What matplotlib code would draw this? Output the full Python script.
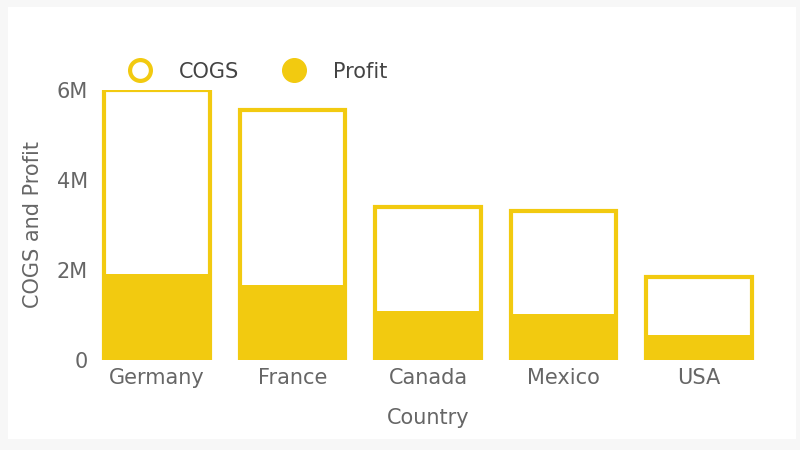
import matplotlib.pyplot as plt
from matplotlib.lines import Line2D

countries = ['Germany', 'France', 'Canada', 'Mexico', 'USA']
cogs = [6.0, 5.56, 3.39, 3.32, 1.85]   # millions
profit = [1.92, 1.67, 1.08, 1.03, 0.55]

gold = '#f2ca10'
txt = '#666666'

fig = plt.figure(figsize=(8, 4.5), dpi=100)
fig.patch.set_facecolor('#f7f7f7')
panel = fig.add_axes([0.01, 0.025, 0.985, 0.96])
panel.set_facecolor('white')
panel.set_xticks([]); panel.set_yticks([])
for s in panel.spines.values():
    s.set_visible(False)

ax = fig.add_axes([0.12, 0.2, 0.83, 0.6])
ax.set_facecolor('white')
x = range(len(countries))
ax.bar(x, profit, width=0.8, color=gold, zorder=2)
ax.bar(x, cogs, width=0.78, facecolor='none', edgecolor=gold, linewidth=3, zorder=3)

ax.set_xlim(-0.45, 4.45)
ax.set_ylim(0, 6.0)
ax.set_yticks([0, 2, 4, 6])
ax.set_yticklabels(['0', '2M', '4M', '6M'])
ax.set_xticks(list(x))
ax.set_xticklabels(countries)
ax.tick_params(length=0, labelsize=15, colors=txt, pad=6)
for s in ax.spines.values():
    s.set_visible(False)
ax.set_xlabel('Country', fontsize=15, color=txt, labelpad=14)
ax.set_ylabel('COGS and Profit', fontsize=15, color=txt, labelpad=10)

handles = [
    Line2D([], [], marker='o', linestyle='none', markersize=15, markerfacecolor='white',
           markeredgecolor=gold, markeredgewidth=3, label='COGS'),
    Line2D([], [], marker='o', linestyle='none', markersize=17, markerfacecolor=gold,
           markeredgecolor=gold, label='Profit'),
]
fig.legend(handles=handles, loc='upper left', bbox_to_anchor=(0.125, 0.905), ncol=2,
           frameon=False, fontsize=15, labelcolor='#444444', handletextpad=0.9,
           columnspacing=1.6)

fig.savefig('out.png', dpi=100, facecolor=fig.get_facecolor())
